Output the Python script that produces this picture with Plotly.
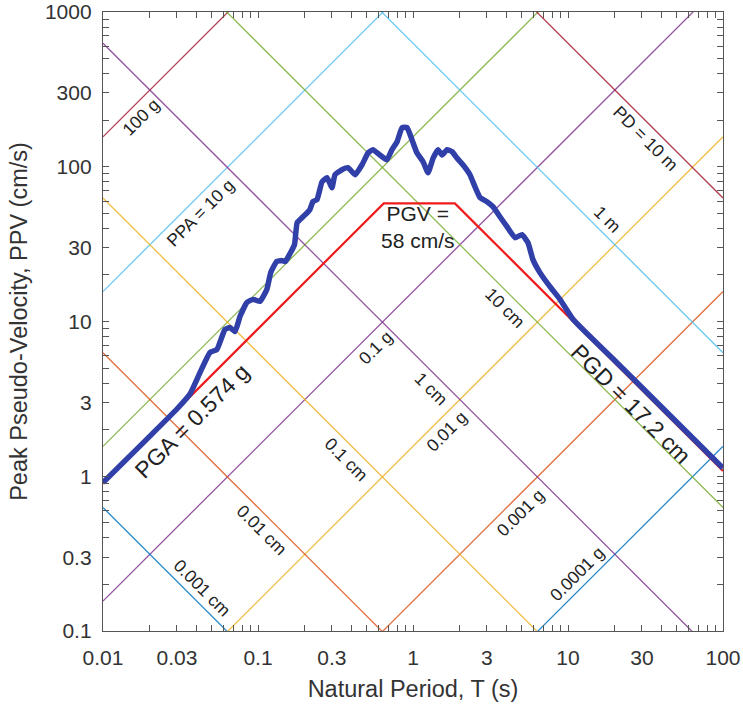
import numpy as np
import plotly.graph_objects as go

# ---------------------------------------------------------------------------
# Data
# ---------------------------------------------------------------------------
G_CMS2 = 981.0  # gravity, cm/s^2

# Response spectrum (pseudo-velocity) of the record
period_s = [0.01, 0.02, 0.03, 0.0364, 0.0423, 0.049, 0.0543, 0.0612, 0.0659, 0.0711,
            0.0766, 0.0849, 0.0929, 0.103, 0.114, 0.121, 0.132, 0.142, 0.150, 0.161,
            0.172, 0.179, 0.195, 0.216, 0.226, 0.240, 0.259, 0.279, 0.300, 0.314,
            0.348, 0.381, 0.423, 0.469, 0.513, 0.552, 0.612, 0.679, 0.732, 0.789,
            0.850, 0.915, 0.986, 1.06, 1.16, 1.25, 1.35, 1.45, 1.54, 1.66,
            1.79, 1.92, 2.10, 2.33, 2.51, 2.71, 3.00, 3.28, 3.64, 4.04,
            4.55, 5.05, 5.52, 5.94, 6.59, 7.65, 8.88, 10.8, 20.0, 30.0,
            50.0, 100.0]
ppv_cms = [0.91, 1.81, 2.72, 3.4, 4.69, 6.31, 6.59, 8.87, 9.14, 8.61,
           10.8, 13.3, 13.9, 13.5, 16.1, 20.8, 24.4, 24.8, 24.4, 27.5,
           31.4, 43.6, 47.5, 52.8, 59.5, 61.2, 80.0, 84.9, 73.2, 88.8,
           95.7, 98.6, 88.8, 103.0, 123.0, 129.0, 119.0, 111.0, 129.0, 145.0,
           179.0, 179.0, 149.0, 123.0, 108.0, 91.4, 114.0, 129.0, 119.0, 129.0,
           125.0, 114.0, 103.0, 88.8, 74.3, 63.1, 59.5, 55.2, 47.5, 41.0,
           34.8, 36.4, 32.3, 25.1, 20.7, 16.8, 13.9, 10.3, 5.6, 3.75,
           2.25, 1.13]

# Peak ground motion values
pga_g = 0.574
pgv_cms = 58.0
pgd_cm = 17.2

# Tripartite grid: constant-acceleration and constant-displacement lines
accel_levels_g = [100, 10, 1, 0.1, 0.01, 0.001, 0.0001]
accel_labels = ["100 g", "PPA = 10 g", None, "0.1 g", "0.01 g", "0.001 g", "0.0001 g"]
accel_label_T = [0.0176, 0.0423, None, 0.569, 1.656, 4.90, 11.4]
accel_label_side = [-1, -1, 0, -1, -1, -1, 1]

disp_levels_cm = [1000, 100, 10, 1, 0.1, 0.01, 0.001]
disp_labels = ["PD = 10 m", "1 m", "10 cm", "1 cm", "0.1 cm", "0.01 cm", "0.001 cm"]
disp_label_T = [31.4, 17.9, 3.93, 1.31, 0.375, 0.106, 0.0436]
disp_label_side = [-1, 1, -1, -1, -1, -1, 1]

decade_colors = ["#A2142F", "#4DBEEE", "#77AC30", "#7E2F8E", "#EDB120", "#D95319", "#0072BD"]

x_label_vals = [0.01, 0.03, 0.1, 0.3, 1, 3, 10, 30, 100]
x_label_text = ["0.01", "0.03", "0.1", "0.3", "1", "3", "10", "30", "100"]
y_label_vals = [0.1, 0.3, 1, 3, 10, 30, 100, 300, 1000]
y_label_text = ["0.1", "0.3", "1", "3", "10", "30", "100", "300", "1000"]

# ---------------------------------------------------------------------------
T_MIN, T_MAX = 0.01, 100.0
FONT = "Liberation Sans, Arial, Helvetica, sans-serif"
TXT = "#222222"


def v_from_accel(a_g, t):
    return a_g * G_CMS2 * np.asarray(t, dtype=float) / (2 * np.pi)


def v_from_disp(d_cm, t):
    return 2 * np.pi * d_cm / np.asarray(t, dtype=float)


def all_ticks(lo_exp, hi_exp):
    vals = []
    for e in range(lo_exp, hi_exp):
        for m in range(1, 10):
            vals.append(round(m * 10.0 ** e, 10))
    vals.append(10.0 ** hi_exp)
    return vals


def tick_text(vals, lab_vals, lab_text):
    out = []
    for v in vals:
        txt = ""
        for lv, lt in zip(lab_vals, lab_text):
            if abs(np.log10(v) - np.log10(lv)) < 1e-6:
                txt = lt
        out.append(txt)
    return out


fig = go.Figure()
T_line = np.array([T_MIN, T_MAX])

for a, col in zip(accel_levels_g, decade_colors):
    fig.add_trace(go.Scatter(x=T_line, y=v_from_accel(a, T_line), mode="lines",
                             line=dict(color=col, width=1.3), opacity=0.82,
                             hoverinfo="skip", showlegend=False))
for d, col in zip(disp_levels_cm, decade_colors):
    fig.add_trace(go.Scatter(x=T_line, y=v_from_disp(d, T_line), mode="lines",
                             line=dict(color=col, width=1.3), opacity=0.82,
                             hoverinfo="skip", showlegend=False))

# Idealised design envelope from PGA, PGV, PGD
t_a = pgv_cms / float(v_from_accel(pga_g, 1.0))
t_d = float(v_from_disp(pgd_cm, 1.0)) / pgv_cms
env_T = np.array([T_MIN, t_a, t_d, T_MAX])
env_V = np.array([float(v_from_accel(pga_g, T_MIN)), pgv_cms, pgv_cms,
                  float(v_from_disp(pgd_cm, T_MAX))])
fig.add_trace(go.Scatter(x=env_T, y=env_V, mode="lines",
                         line=dict(color="#ee1c1c", width=2.2),
                         hoverinfo="skip", showlegend=False))

# Spectrum
fig.add_trace(go.Scatter(x=period_s, y=ppv_cms, mode="lines",
                         line=dict(color="#3040a8", width=5.5, shape="spline", smoothing=0.4),
                         showlegend=False))

# Line labels, offset perpendicular to each line (expressed in decades of V)
OFF = 0.118
annotations = []
for a, lab, t, side in zip(accel_levels_g, accel_labels, accel_label_T, accel_label_side):
    if lab is None:
        continue
    lv = np.log10(float(v_from_accel(a, t))) + side * OFF
    annotations.append(dict(x=np.log10(t), y=lv, text=lab, textangle=-45,
                            font=dict(size=17.5, color=TXT, family=FONT)))
for d, lab, t, side in zip(disp_levels_cm, disp_labels, disp_label_T, disp_label_side):
    lv = np.log10(float(v_from_disp(d, t))) + side * OFF
    annotations.append(dict(x=np.log10(t), y=lv, text=lab, textangle=45,
                            font=dict(size=17.5, color=TXT, family=FONT)))

# Peak value labels
pga_T, pgd_T, pgv_T = 0.0375, 25.5, 1.08
annotations.append(dict(x=np.log10(pga_T),
                        y=np.log10(float(v_from_accel(pga_g, pga_T))) - 0.17,
                        text=f"PGA = {pga_g:g} g", textangle=-45,
                        font=dict(size=23, color=TXT, family=FONT)))
annotations.append(dict(x=np.log10(pgd_T),
                        y=np.log10(float(v_from_disp(pgd_cm, pgd_T))) - 0.16,
                        text=f"PGD = {pgd_cm:g} cm", textangle=45,
                        font=dict(size=23, color=TXT, family=FONT)))
annotations.append(dict(x=np.log10(pgv_T), y=np.log10(pgv_cms) - 0.150,
                        text=f"PGV =<br>{pgv_cms:g} cm/s", textangle=0,
                        font=dict(size=21, color=TXT, family=FONT)))

for an in annotations:
    an.update(xref="x", yref="y", showarrow=False, xanchor="center", yanchor="middle")

x_ticks = all_ticks(-2, 2)
y_ticks = all_ticks(-1, 3)

axis_common = dict(type="log", showgrid=False, zeroline=False, showline=True,
                   linecolor="#555555", linewidth=1.3, mirror="ticks", automargin=False,
                   ticks="inside", ticklen=6, tickwidth=1.1, tickcolor="#555555",
                   tickmode="array", tickfont=dict(size=21, color="#333333", family=FONT))

fig.update_xaxes(range=[-2, 2], tickvals=x_ticks,
                 ticktext=tick_text(x_ticks, x_label_vals, x_label_text),
                 ticklabelstandoff=8,
                 title=dict(text="Natural Period, T (s)", standoff=12,
                            font=dict(size=23.5, color="#333333", family=FONT)),
                 **axis_common)
fig.update_yaxes(range=[-1, 3], tickvals=y_ticks,
                 ticktext=tick_text(y_ticks, y_label_vals, y_label_text),
                 ticklabelstandoff=6,
                 title=dict(text="Peak Pseudo-Velocity, PPV (cm/s)", standoff=10,
                            font=dict(size=23.5, color="#333333", family=FONT)),
                 **axis_common)

fig.update_layout(width=743, height=708, autosize=False,
                  margin=dict(l=103, r=20, t=12, b=77),
                  paper_bgcolor="white", plot_bgcolor="white",
                  annotations=annotations, font=dict(family=FONT))

fig.write_html("out.html")
